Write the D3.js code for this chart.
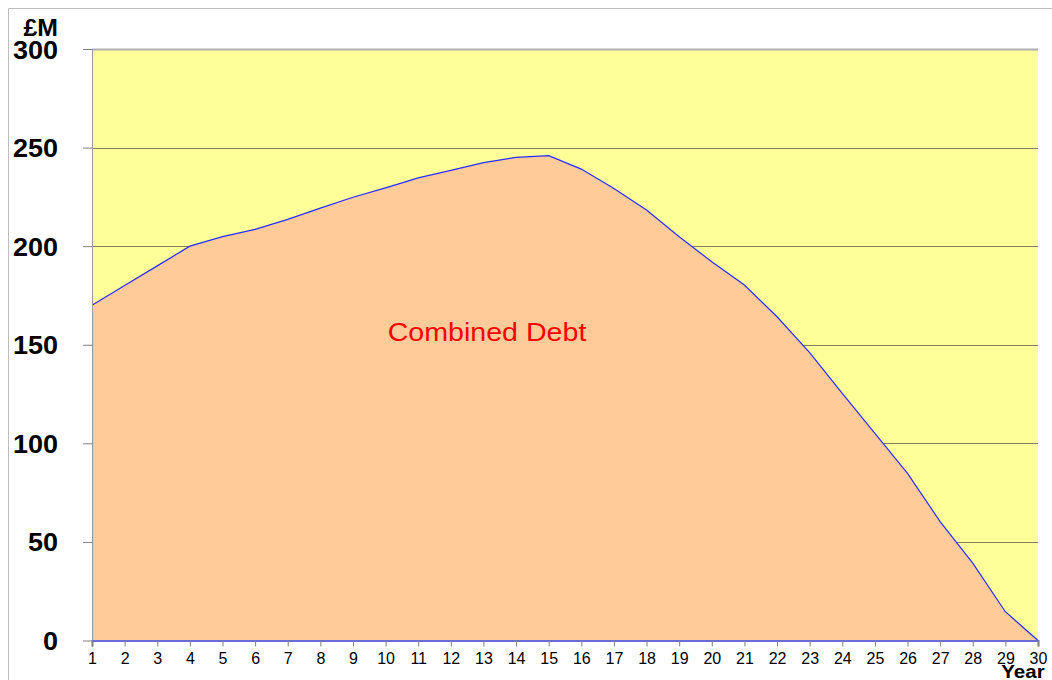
<!DOCTYPE html>
<html>
<head>
<meta charset="utf-8">
<script src="https://cdn.jsdelivr.net/npm/d3@7"></script>
<style>
  body { margin: 0; background: #fff; }
  svg { display: block; font-family: "Liberation Sans", Arial, sans-serif; }
</style>
</head>
<body>
<script>
// Data
var years = d3.range(1, 31);
var debt = [170, 180, 190, 200, 204.8, 208.5, 213.6, 219.3, 224.8, 229.6,
            234.6, 238.4, 242.4, 245, 245.9, 239.1, 229.3, 218.3, 204.8, 192.1,
            180.3, 164.2, 146, 125.4, 105.1, 84.8, 60.3, 39.2, 14.6, 0];
var yTicks = [0, 50, 100, 150, 200, 250, 300];
var seriesLabel = "Combined Debt";

var svgWidth = 1052;
var svgHeight = 680;

var chartMargin = { top: 49, right: 14, bottom: 39.5, left: 92 };
var chartWidth = svgWidth - chartMargin.left - chartMargin.right;
var chartHeight = svgHeight - chartMargin.top - chartMargin.bottom;

// the original text looks slightly stretched sideways
var stretch = 1.08;

var svg = d3.select("body")
  .append("svg")
  .attr("width", svgWidth)
  .attr("height", svgHeight);

// outer frame (only top and left edges are visible)
svg.append("path")
  .attr("d", "M8.5," + svgHeight + "V8.5H" + svgWidth)
  .attr("fill", "none")
  .attr("stroke", "#bdbdbd")
  .attr("stroke-width", 1);

var chartGroup = svg.append("g")
  .attr("transform", `translate(${chartMargin.left}, ${chartMargin.top})`);

var data = years.map(function(yr, i) { return { year: yr, value: debt[i] }; });

var x = d3.scaleLinear()
  .domain([1, 30])
  .range([0, chartWidth]);

var y = d3.scaleLinear()
  .domain([0, 300])
  .range([chartHeight, 0]);

// plot background
chartGroup.append("rect")
  .attr("width", chartWidth)
  .attr("height", chartHeight)
  .attr("fill", "#ffff99");

// gridlines
chartGroup.append("g")
  .selectAll("line")
  .data(yTicks.filter(function(t) { return t > 0; }))
  .enter()
  .append("line")
  .attr("x1", 0)
  .attr("x2", chartWidth)
  .attr("y1", function(d) { return Math.round(y(d)) + 0.5; })
  .attr("y2", function(d) { return Math.round(y(d)) + 0.5; })
  .attr("stroke", function(d) { return d === 300 ? "#b0b0b0" : "#808060"; })
  .attr("stroke-width", function(d) { return d === 300 ? 2 : 1; });

// area
var area = d3.area()
  .x(function(d) { return x(d.year); })
  .y0(y(0))
  .y1(function(d) { return y(d.value); });

chartGroup.append("path")
  .datum(data)
  .attr("d", area)
  .attr("fill", "#ffcc99");

var line = d3.line()
  .x(function(d) { return x(d.year); })
  .y(function(d) { return y(d.value); });

chartGroup.append("path")
  .datum(data)
  .attr("d", line)
  .attr("fill", "none")
  .attr("stroke", "#2a2aff")
  .attr("stroke-width", 1.2);

// y axis
var yAxis = chartGroup.append("g")
  .call(d3.axisLeft(y).tickValues(yTicks).tickSize(9).tickFormat(d3.format("d")));
yAxis.select(".domain").attr("stroke", "#9a9a9a").attr("d", "M0.5," + chartHeight + "V0");
yAxis.selectAll(".tick line").attr("stroke", "#808080");
yAxis.selectAll(".tick text")
  .attr("x", -34 / stretch)
  .attr("dy", "0.36em")
  .attr("transform", "scale(" + stretch + ",1)")
  .style("font-size", "25px")
  .style("font-weight", "bold")
  .attr("fill", "#000");

// x axis
var xAxis = chartGroup.append("g")
  .attr("transform", "translate(0," + chartHeight + ")")
  .call(d3.axisBottom(x).tickValues(years).tickSize(6).tickFormat(d3.format("d")));
xAxis.select(".domain").attr("stroke", "#6a6ad8").attr("stroke-width", 2);
xAxis.selectAll(".tick line").attr("stroke", "#808080");
xAxis.selectAll(".tick text")
  .attr("y", 12)
  .attr("dy", "0.71em")
  .style("font-size", "16px")
  .attr("fill", "#000");

// unit label
svg.append("text")
  .attr("transform", "translate(58,36) scale(" + stretch + ",1)")
  .attr("text-anchor", "end")
  .style("font-size", "23px")
  .style("font-weight", "bold")
  .text("£M");

// x axis title
svg.append("text")
  .attr("transform", "translate(1023,678) scale(" + stretch + ",1)")
  .attr("text-anchor", "middle")
  .style("font-size", "19px")
  .style("font-weight", "bold")
  .text("Year");

// series label
chartGroup.append("text")
  .attr("transform", "translate(" + (487 - chartMargin.left) + "," + (341 - chartMargin.top) + ") scale(1.1,1)")
  .attr("text-anchor", "middle")
  .style("font-size", "26px")
  .attr("fill", "#ff0000")
  .text(seriesLabel);
</script>
</body>
</html>
